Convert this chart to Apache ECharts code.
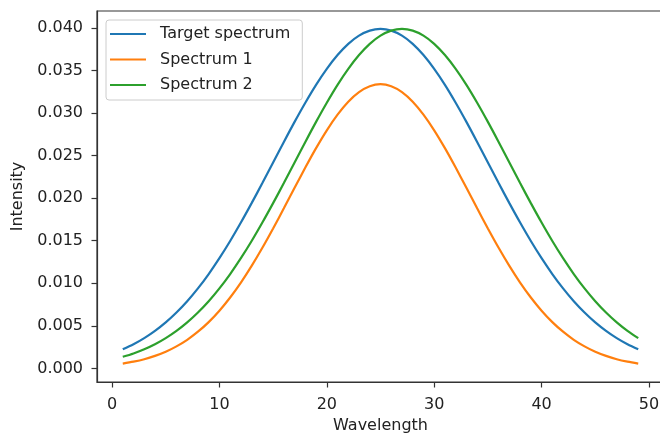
<!DOCTYPE html>
<html>
<head>
<meta charset="utf-8">
<script src="https://cdn.jsdelivr.net/npm/echarts@6/dist/echarts.min.js"></script>
<style>html,body{margin:0;padding:0;background:#fff;}#c{width:660px;height:433px;}</style>
</head>
<body>
<div id="c"></div>
<script>
var wavelength = [1,2,3,4,5,6,7,8,9,10,11,12,13,14,15,16,17,18,19,20,21,22,23,24,25,26,27,28,29,30,31,32,33,34,35,36,37,38,39,40,41,42,43,44,45,46,47,48,49];
var targetSpectrum = [0.00224,0.00283,0.00355,0.00440,0.00540,0.00656,0.00789,0.00940,0.01109,0.01295,0.01497,0.01714,0.01942,0.02178,0.02420,0.02661,0.02897,0.03122,0.03332,0.03520,0.03682,0.03814,0.03910,0.03969,0.03989,0.03969,0.03910,0.03814,0.03682,0.03520,0.03332,0.03122,0.02897,0.02661,0.02420,0.02178,0.01942,0.01714,0.01497,0.01295,0.01109,0.00940,0.00789,0.00656,0.00540,0.00440,0.00355,0.00283,0.00224];
var spectrum1 = [0.00056,0.00079,0.00108,0.00147,0.00196,0.00259,0.00336,0.00431,0.00544,0.00678,0.00833,0.01008,0.01204,0.01417,0.01644,0.01881,0.02122,0.02360,0.02588,0.02798,0.02982,0.03134,0.03247,0.03316,0.03340,0.03316,0.03247,0.03134,0.02982,0.02798,0.02588,0.02360,0.02122,0.01881,0.01644,0.01417,0.01204,0.01008,0.00833,0.00678,0.00544,0.00431,0.00336,0.00259,0.00196,0.00147,0.00108,0.00079,0.00056];
var spectrum2 = [0.00136,0.00175,0.00224,0.00283,0.00355,0.00440,0.00540,0.00656,0.00789,0.00940,0.01109,0.01295,0.01497,0.01714,0.01942,0.02178,0.02420,0.02661,0.02897,0.03122,0.03332,0.03520,0.03682,0.03814,0.03910,0.03969,0.03989,0.03969,0.03910,0.03814,0.03682,0.03520,0.03332,0.03122,0.02897,0.02661,0.02420,0.02178,0.01942,0.01714,0.01497,0.01295,0.01109,0.00940,0.00789,0.00656,0.00540,0.00440,0.00355];
var xTicks = [0,10,20,30,40,50];
var yTicks = [0,0.005,0.010,0.015,0.020,0.025,0.030,0.035,0.040];
var seriesNames = ['Target spectrum','Spectrum 1','Spectrum 2'];
var colors = ['#1f77b4','#ff7f0e','#2ca02c'];

function pairs(ys){ return wavelength.map(function(x,i){ return [x, ys[i]]; }); }
var allData = [targetSpectrum, spectrum1, spectrum2];

var FONT = 'DejaVu Sans';
var FS = 16;
var chart = echarts.init(document.getElementById('c'), null, {renderer:'canvas'});
var axisCommon = {
  axisLine:{show:true, onZero:false, lineStyle:{color:'#333', width:1.2}},
  axisTick:{show:true, inside:false, length:5.5, lineStyle:{color:'#333', width:1.2}},
  splitLine:{show:false},
  nameTextStyle:{fontFamily:FONT, fontSize:FS, color:'#222'}
};
chart.setOption({
  animation:false,
  backgroundColor:'#fff',
  color: colors,
  grid:{left:97, top:11, right:-4, bottom:51, show:true, borderColor:'#333', borderWidth:1.2,
    containLabel:false, outerBoundsMode:'none'},
  legend:{
    orient:'vertical', left:106, top:20,
    data: seriesNames,
    icon:'path://M0,0 L36,0 L36,2.2 L0,2.2 Z',
    itemWidth:36, itemHeight:16, itemGap:9.5,
    padding:[6,12,7,4],
    backgroundColor:'rgba(255,255,255,0.8)', borderColor:'#cccccc', borderWidth:1, borderRadius:3,
    textStyle:{fontFamily:FONT, fontSize:FS, color:'#222', padding:[0,0,0,9]}
  },
  xAxis: Object.assign({}, axisCommon, {
    type:'value', min:-1.4, max:51.4,
    name:'Wavelength', nameLocation:'middle', nameGap:36,
    axisTick:Object.assign({}, axisCommon.axisTick, {customValues:xTicks}),
    axisLabel:{customValues:xTicks, fontFamily:FONT, fontSize:FS, color:'#222', margin:15}
  }),
  yAxis: Object.assign({}, axisCommon, {
    type:'value', min:-0.0016, max:0.042,
    name:'Intensity', nameLocation:'middle', nameGap:70, nameRotate:90,
    axisTick:Object.assign({}, axisCommon.axisTick, {customValues:yTicks}),
    axisLabel:{customValues:yTicks, fontFamily:FONT, fontSize:FS, color:'#222', margin:14,
      formatter:function(v){ return v.toFixed(3); }}
  }),
  series: seriesNames.map(function(n,i){
    return {name:n, type:'line', data:pairs(allData[i]), symbol:'none', showSymbol:false,
      smooth:0.3,
      lineStyle:{width:2.2, color:colors[i]}, itemStyle:{color:colors[i]}, z:2+i};
  })
});
</script>
</body>
</html>
